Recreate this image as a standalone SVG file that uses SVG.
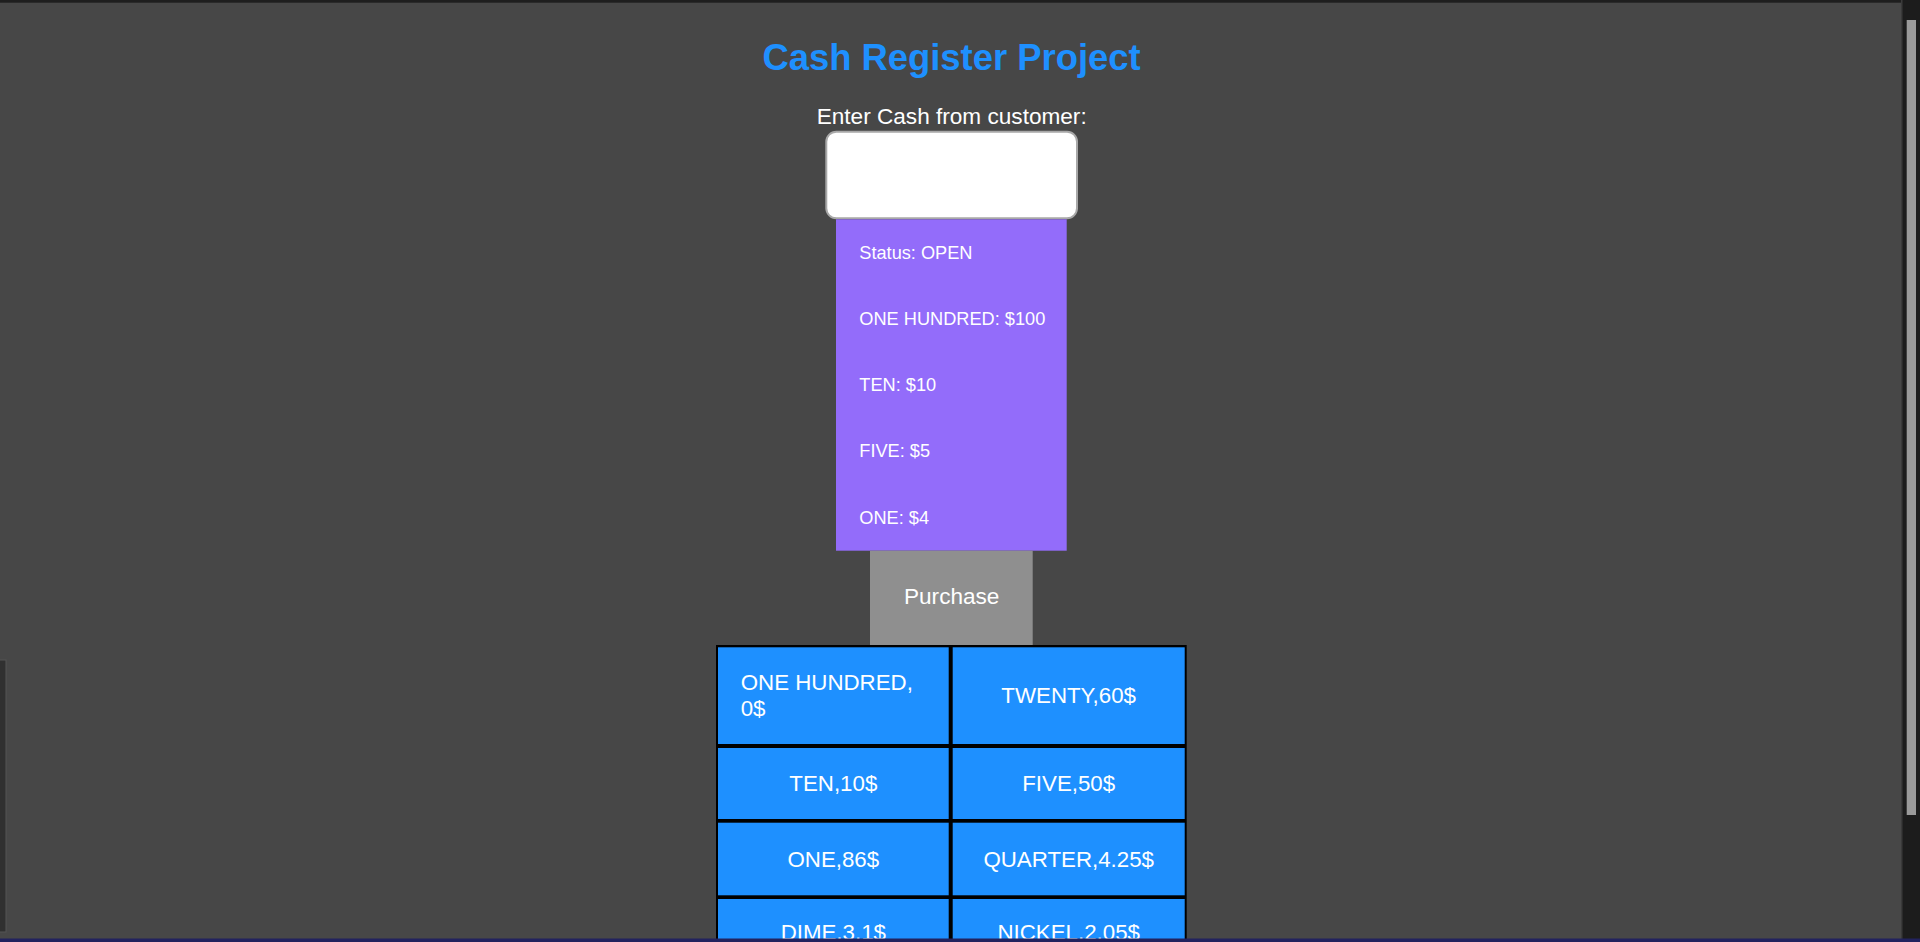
<svg xmlns="http://www.w3.org/2000/svg" width="1920" height="942" viewBox="0 0 1920 942">
<style>
text{font-family:"Liberation Sans",Arial,sans-serif;fill:#ffffff}
.lst{font-size:18.2px}
.cell{fill:#1e90ff}
.ct{font-size:22.3px;text-anchor:middle}
</style>
<rect x="0" y="0" width="1920" height="942" fill="#474747"/>
<rect x="0" y="0" width="1920" height="2.7" fill="#1e1e1e"/>
<g id="scrollbar">
<rect x="1901" y="0" width="19" height="942" fill="#1c1c1c"/>
<rect x="1901" y="0" width="1.5" height="942" fill="#3a3a3a"/>
<rect x="1906.7" y="20" width="9.3" height="795" fill="#9a9a9a"/>
</g>
<rect id="leftbar" x="-1" y="660" width="7" height="272" fill="#303030" stroke="#555555" stroke-width="1"/>
<g id="title"><text x="951.5" y="70" font-size="36.4" font-weight="bold" text-anchor="middle" style="fill:#1e90ff">Cash Register Project</text></g>
<g id="label"><text x="951.7" y="124" font-size="22.6" text-anchor="middle">Enter Cash from customer:</text></g>
<g id="input"><rect x="826.3" y="131.7" width="250.7" height="86.6" rx="10" fill="#ffffff" stroke="#a8a8a8" stroke-width="2"/></g>
<g id="status">
<rect x="836" y="219.3" width="230.7" height="331.4" fill="#936cfa"/>
<text class="lst" x="859.3" y="259.3">Status: OPEN</text>
<text class="lst" x="859.3" y="325">ONE HUNDRED: $100</text>
<text class="lst" x="859.3" y="390.7">TEN: $10</text>
<text class="lst" x="859.3" y="456.7">FIVE: $5</text>
<text class="lst" x="859.3" y="524">ONE: $4</text>
</g>
<g id="purchase">
<rect x="870" y="550.7" width="162.7" height="94.3" fill="#8f8f8f"/>
<text x="951.7" y="604.3" font-size="22.6" text-anchor="middle">Purchase</text>
</g>
<g id="drawer">
<rect x="716" y="645" width="470.7" height="300" fill="#000000"/>
<g id="c-hundred"><rect class="cell" x="718" y="647.3" width="230.7" height="96.7"/>
<text x="740.7" y="690" font-size="22.3">ONE HUNDRED,</text><text x="740.7" y="716" font-size="22.3">0$</text></g>
<g id="c-twenty"><rect class="cell" x="952.7" y="647.3" width="232" height="96.7"/><text class="ct" x="1068.7" y="702.7">TWENTY,60$</text></g>
<g id="c-ten"><rect class="cell" x="718" y="748" width="230.7" height="71"/><text class="ct" x="833.3" y="790.7">TEN,10$</text></g>
<g id="c-five"><rect class="cell" x="952.7" y="748" width="232" height="71"/><text class="ct" x="1068.7" y="790.7">FIVE,50$</text></g>
<g id="c-one"><rect class="cell" x="718" y="822.7" width="230.7" height="72.6"/><text class="ct" x="833.3" y="866.7">ONE,86$</text></g>
<g id="c-quarter"><rect class="cell" x="952.7" y="822.7" width="232" height="72.6"/><text class="ct" x="1068.7" y="866.7">QUARTER,4.25$</text></g>
<g id="c-dime"><rect class="cell" x="718" y="899" width="230.7" height="60"/><text class="ct" x="833.3" y="940">DIME,3.1$</text></g>
<g id="c-nickel"><rect class="cell" x="952.7" y="899" width="232" height="60"/><text class="ct" x="1068.7" y="940">NICKEL,2.05$</text></g>
</g>
<rect x="0" y="938.5" width="1920" height="3.5" fill="#22225e"/>
</svg>
